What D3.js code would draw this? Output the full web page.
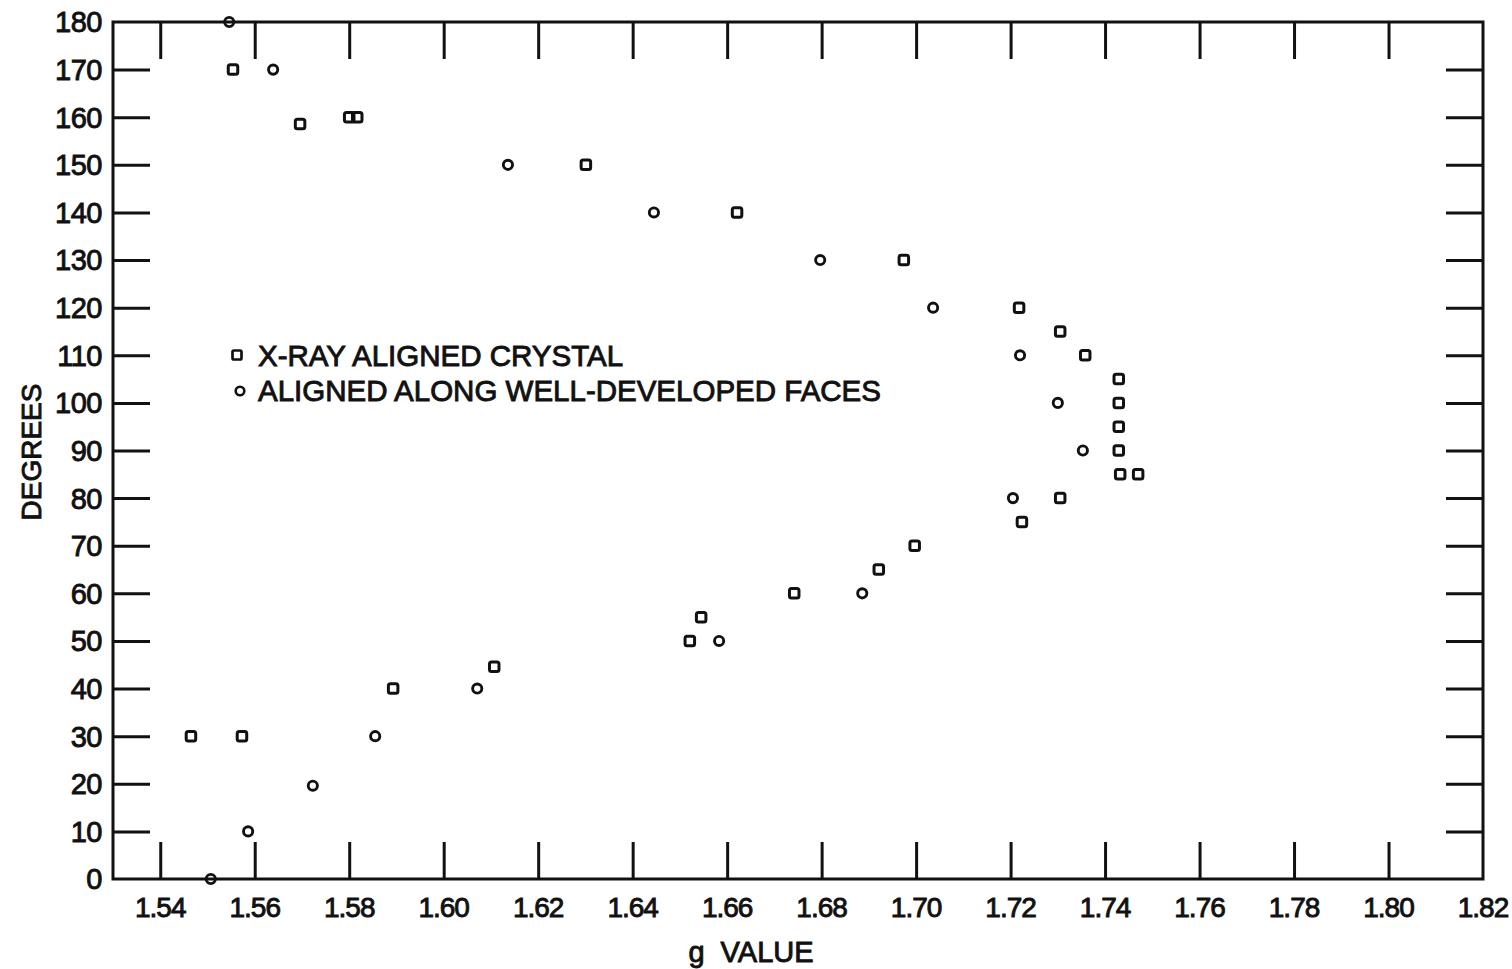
<!DOCTYPE html>
<html>
<head>
<meta charset="utf-8">
<script src="https://cdn.jsdelivr.net/npm/d3@7"></script>
<style>
  html, body { margin: 0; padding: 0; background: #fff; }
  svg { display: block; }
  text { font-family: "Liberation Sans", Arial, sans-serif; fill: #111; stroke: #111; stroke-width: 0.9; }
</style>
</head>
<body>
<svg id="chart" width="1512" height="969"></svg>
<script>
// ---- data ----
const xTickValues = [1.54, 1.56, 1.58, 1.60, 1.62, 1.64, 1.66, 1.68, 1.70, 1.72, 1.74, 1.76, 1.78, 1.80, 1.82];
const xTickLabels = ["1.54", "1.56", "1.58", "1.60", "1.62", "1.64", "1.66", "1.68", "1.70", "1.72", "1.74", "1.76", "1.78", "1.80", "1.82"];
const yTickValues = [0, 10, 20, 30, 40, 50, 60, 70, 80, 90, 100, 110, 120, 130, 140, 150, 160, 170, 180];

// X-RAY ALIGNED CRYSTAL (squares)
const squareG   = [1.5554, 1.5696, 1.5800, 1.5817, 1.6301, 1.6621, 1.6974, 1.7218, 1.7305, 1.7358,
                   1.7429, 1.7429, 1.7429, 1.7429, 1.7432, 1.7470, 1.7305, 1.7224, 1.6997, 1.6921,
                   1.6742, 1.6545, 1.6521, 1.6107, 1.5893, 1.5573, 1.5465];
const squareDeg = [170, 158.6, 160, 160, 150, 140, 130, 120, 115, 110,
                   105, 100, 95, 90, 85, 85, 80, 75, 70, 65,
                   60, 55, 50, 44.6, 40, 30, 30];

// ALIGNED ALONG WELL-DEVELOPED FACES (circles)
const circleG   = [1.5546, 1.5639, 1.6136, 1.6445, 1.6797, 1.7036, 1.7220, 1.7300, 1.7353, 1.7205,
                   1.6886, 1.6583, 1.6071, 1.5855, 1.5723, 1.5586, 1.5507];
const circleDeg = [180, 170, 150, 140, 130, 120, 110, 100, 90, 80,
                   60, 50, 40, 30, 19.6, 10, 0];

const legendLabels = ["X-RAY ALIGNED CRYSTAL", "ALIGNED ALONG WELL-DEVELOPED FACES"];
const xTitle = "g VALUE";
const yTitle = "DEGREES";

// ---- layout ----
const svg = d3.select("#chart");
const mLeft = 113, mRight = 1483, mTop = 22, mBottom = 879;
const x = d3.scaleLinear().domain([1.53, 1.82]).range([mLeft, mRight]);
const y = d3.scaleLinear().domain([0, 180]).range([mBottom, mTop]);
const tickLen = 37;
const ink = "#111";

// frame
svg.append("rect")
  .attr("x", x(1.53)).attr("y", y(180))
  .attr("width", x(1.82) - x(1.53)).attr("height", y(0) - y(180))
  .attr("fill", "none").attr("stroke", ink).attr("stroke-width", 3);

// inner ticks via axes
const innerX = xTickValues.filter(v => v > 1.535 && v < 1.815);
const innerY = yTickValues.filter(v => v > 0 && v < 180);

function styleAxis(g) {
  g.select(".domain").remove();
  g.selectAll(".tick line").attr("stroke", ink).attr("stroke-width", 3);
  g.selectAll(".tick text").remove();
}
svg.append("g").attr("transform", `translate(0,${mBottom})`)
  .call(d3.axisTop(x).tickValues(innerX).tickSize(tickLen)).call(styleAxis);
svg.append("g").attr("transform", `translate(0,${mTop})`)
  .call(d3.axisBottom(x).tickValues(innerX).tickSize(tickLen)).call(styleAxis);
svg.append("g").attr("transform", `translate(${mLeft},0)`)
  .call(d3.axisRight(y).tickValues(innerY).tickSize(tickLen)).call(styleAxis);
svg.append("g").attr("transform", `translate(${mRight},0)`)
  .call(d3.axisLeft(y).tickValues(innerY).tickSize(tickLen)).call(styleAxis);

// tick labels
svg.append("g").selectAll("text").data(xTickValues).join("text")
  .attr("x", d => x(d)).attr("y", 917)
  .attr("text-anchor", "middle").attr("font-size", 28).attr("letter-spacing", -1)
  .text((d, i) => xTickLabels[i]);
svg.append("g").selectAll("text").data(yTickValues).join("text")
  .attr("x", 102).attr("y", d => y(d)).attr("dy", "0.36em")
  .attr("text-anchor", "end").attr("font-size", 29).attr("letter-spacing", -0.5)
  .text(d => d);

// titles
svg.append("text").attr("x", 751).attr("y", 962)
  .attr("text-anchor", "middle").attr("font-size", 29).attr("word-spacing", 8)
  .text(xTitle);
svg.append("text").attr("transform", "translate(41,452) rotate(-90)")
  .attr("text-anchor", "middle").attr("font-size", 28)
  .text(yTitle);

// markers
const sq = 9.5;
svg.append("g").selectAll("rect").data(squareG.map((g, i) => [g, squareDeg[i]])).join("rect")
  .attr("x", d => x(d[0]) - sq / 2).attr("y", d => y(d[1]) - sq / 2)
  .attr("width", sq).attr("height", sq).attr("rx", 2)
  .attr("fill", "none").attr("stroke", ink).attr("stroke-width", 3);
svg.append("g").selectAll("circle").data(circleG.map((g, i) => [g, circleDeg[i]])).join("circle")
  .attr("cx", d => x(d[0])).attr("cy", d => y(d[1])).attr("r", 4.6)
  .attr("fill", "none").attr("stroke", ink).attr("stroke-width", 2.9);

// legend
const lg = svg.append("g");
lg.append("rect").attr("x", 237 - 4.5).attr("y", 355 - 4.5).attr("width", 9).attr("height", 9).attr("rx", 1.5)
  .attr("fill", "none").attr("stroke", ink).attr("stroke-width", 2.7);
lg.append("circle").attr("cx", 240).attr("cy", 391).attr("r", 4.3)
  .attr("fill", "none").attr("stroke", ink).attr("stroke-width", 2.6);
lg.selectAll("text").data(legendLabels).join("text")
  .attr("x", 258).attr("y", (d, i) => 366 + i * 35)
  .attr("font-size", 29.5)
  .text(d => d);
</script>
</body>
</html>
